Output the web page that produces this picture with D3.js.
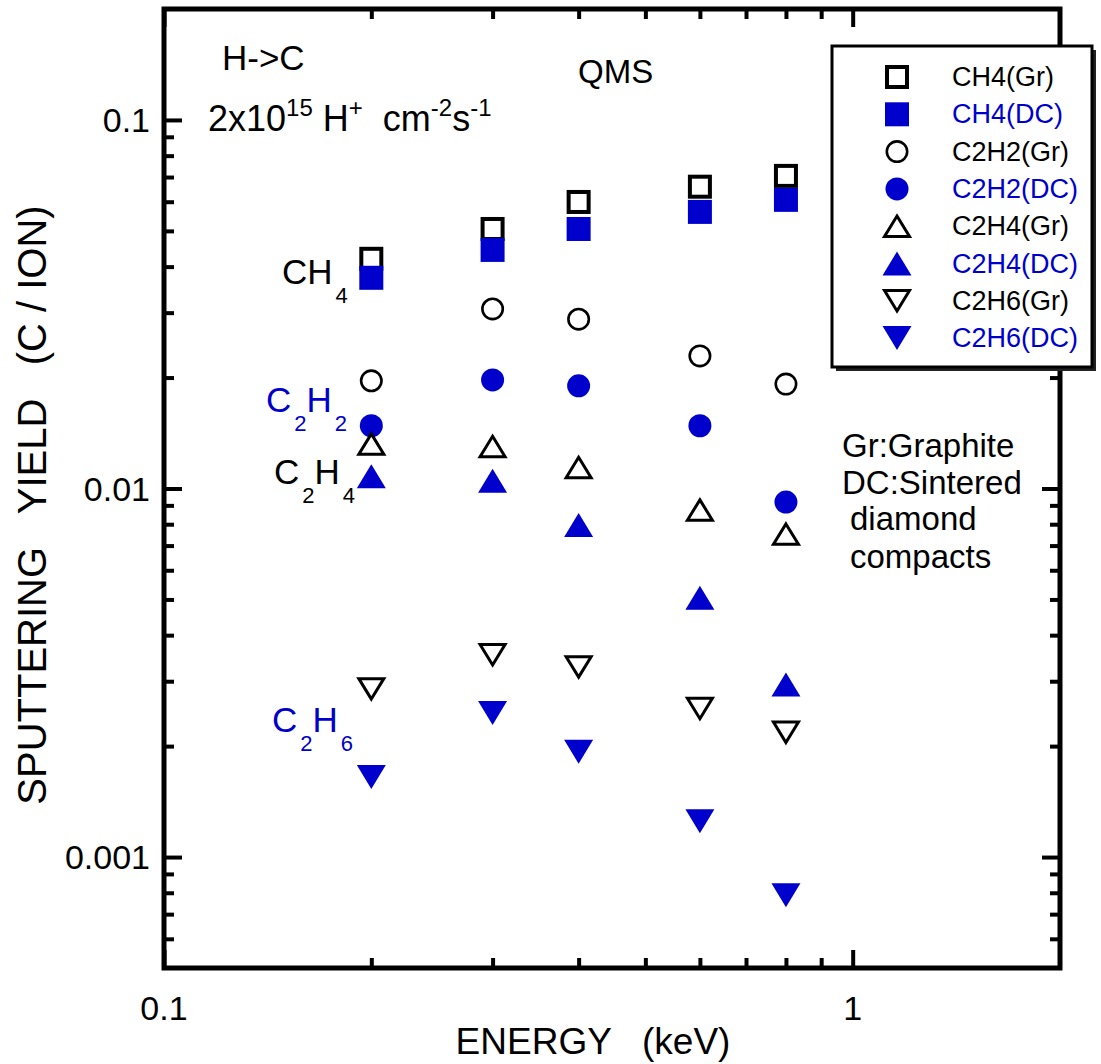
<!DOCTYPE html>
<html>
<head>
<meta charset="utf-8">
<script src="https://cdn.jsdelivr.net/npm/d3@7"></script>
<style>
  html, body { margin: 0; padding: 0; background: #fff; }
  svg { display: block; font-family: "Liberation Sans", Arial, Helvetica, sans-serif; }
</style>
</head>
<body>
<svg id="chart" width="1101" height="1064"></svg>
<script>
// Incident energies (keV)
const energies = [0.2, 0.3, 0.4, 0.6, 0.8];

// Sputtering yields (C / ion) for each product and target
const ch4Gr  = [0.0420, 0.0506, 0.0599, 0.0659, 0.0705];
const ch4DC  = [0.0373, 0.0444, 0.0506, 0.0563, 0.0607];
const c2h2Gr = [0.0196, 0.0307, 0.0288, 0.0229, 0.0192];
const c2h2DC = [0.0148, 0.0197, 0.0190, 0.0148, 0.00919];
const c2h4Gr = [0.0132, 0.0130, 0.0114, 0.00874, 0.00752];
const c2h4DC = [0.0108, 0.0105, 0.00796, 0.00505, 0.00294];
const c2h6Gr = [0.00286, 0.00354, 0.00328, 0.00253, 0.00218];
const c2h6DC = [0.00165, 0.00246, 0.00193, 0.00125, 0.000788];

const seriesNames  = ["CH4(Gr)", "CH4(DC)", "C2H2(Gr)", "C2H2(DC)", "C2H4(Gr)", "C2H4(DC)", "C2H6(Gr)", "C2H6(DC)"];
const seriesValues = [ch4Gr, ch4DC, c2h2Gr, c2h2DC, c2h4Gr, c2h4DC, c2h6Gr, c2h6DC];
const seriesShapes = ["square", "square", "circle", "circle", "up", "up", "down", "down"];
const seriesFilled = [false, true, false, true, false, true, false, true];

// Axis ticks
const xMajorTicks = [0.1, 1];
const xMajorLabels = ["0.1", "1"];
const xMinorTicks = [0.2, 0.3, 0.4, 0.5, 0.6, 0.7, 0.8, 0.9];
const yMajorTicks = [0.001, 0.01, 0.1];
const yMajorLabels = ["0.001", "0.01", "0.1"];
const yMinorTicks = [0.0006, 0.0007, 0.0008, 0.0009,
                     0.002, 0.003, 0.004, 0.005, 0.006, 0.007, 0.008, 0.009,
                     0.02, 0.03, 0.04, 0.05, 0.06, 0.07, 0.08, 0.09];

const BLUE = "#0000cc";
const svg = d3.select("#chart");

const x = d3.scaleLog().domain([0.1, 2]).range([164, 1060]);
const y = d3.scaleLog().domain([0.0005, 0.2]).range([968, 9]);

const [x0, x1] = x.range();
const [y0, y1] = [y.range()[1], y.range()[0]];

// Tick marks, all pointing into the plot
function ticks(axisGen, transform, vals, len) {
  const g = svg.append("g").attr("transform", transform)
    .call(axisGen.tickValues(vals).tickSize(len).tickSizeOuter(0).tickFormat(""));
  g.select(".domain").remove();
  g.selectAll(".tick line").attr("stroke", "#000").attr("stroke-width", 4);
  return g;
}
const MAJ = 18, MIN = 10;
ticks(d3.axisBottom(x), `translate(0,${y1})`, xMajorTicks, -MAJ);
ticks(d3.axisBottom(x), `translate(0,${y1})`, xMinorTicks, -MIN);
ticks(d3.axisTop(x), `translate(0,${y0})`, xMajorTicks, -MAJ);
ticks(d3.axisTop(x), `translate(0,${y0})`, xMinorTicks, -MIN);
ticks(d3.axisLeft(y), `translate(${x0},0)`, yMajorTicks, -MAJ);
ticks(d3.axisLeft(y), `translate(${x0},0)`, yMinorTicks, -MIN);
ticks(d3.axisRight(y), `translate(${x1},0)`, yMajorTicks, -MAJ);
ticks(d3.axisRight(y), `translate(${x1},0)`, yMinorTicks, -MIN);

// Frame
svg.append("rect")
  .attr("x", x0).attr("y", y0).attr("width", x1 - x0).attr("height", y1 - y0)
  .attr("fill", "none").attr("stroke", "#000").attr("stroke-width", 5);

// Tick labels
svg.append("g").selectAll("text").data(xMajorTicks).join("text")
  .attr("x", d => x(d)).attr("y", 1020)
  .attr("text-anchor", "middle").attr("font-size", 34)
  .text((d, i) => xMajorLabels[i]);
svg.append("g").selectAll("text").data(yMajorTicks).join("text")
  .attr("x", 150).attr("y", d => y(d) + 12)
  .attr("text-anchor", "end").attr("font-size", 34)
  .text((d, i) => yMajorLabels[i]);

// Axis titles
svg.append("text").attr("x", 593).attr("y", 1054)
  .attr("text-anchor", "middle").attr("font-size", 37)
  .style("white-space", "pre")
  .text("ENERGY   (keV)");
svg.append("text")
  .attr("transform", "translate(46,505) rotate(-90)")
  .attr("text-anchor", "middle").attr("font-size", 40)
  .style("white-space", "pre")
  .text("SPUTTERING   YIELD   (C / ION)");

// Marker drawing
function marker(g, shape, filled) {
  const col = filled ? BLUE : "#000";
  if (shape === "square") {
    const s = filled ? 24 : 20;
    g.append("rect").attr("x", -s / 2).attr("y", -s / 2).attr("width", s).attr("height", s)
      .attr("fill", filled ? BLUE : "#fff").attr("stroke", filled ? "none" : col).attr("stroke-width", 4);
  } else if (shape === "circle") {
    g.append("circle").attr("r", filled ? 11.5 : 10.2)
      .attr("fill", filled ? BLUE : "#fff").attr("stroke", filled ? "none" : col).attr("stroke-width", 2.6);
  } else {
    const dir = shape === "up" ? 1 : -1;
    const w = filled ? 14.5 : 12.5, h = filled ? 12 : 10.2;
    const pts = [[0, -h * dir], [w, h * dir], [-w, h * dir]];
    g.append("path").attr("d", d3.line()(pts) + "Z")
      .attr("fill", filled ? BLUE : "#fff").attr("stroke", filled ? "none" : col)
      .attr("stroke-width", 3).attr("stroke-linejoin", "miter");
  }
}

// Data points
seriesValues.forEach((vals, si) => {
  const g = svg.append("g").attr("class", "series");
  vals.forEach((v, i) => {
    const m = g.append("g").attr("transform", `translate(${x(energies[i])},${y(v)})`);
    marker(m, seriesShapes[si], seriesFilled[si]);
  });
});

// Legend
const lg = svg.append("g");
lg.append("rect").attr("x", 836).attr("y", 50).attr("width", 260).attr("height", 321).attr("fill", "#222");
lg.append("rect").attr("x", 832).attr("y", 46).attr("width", 260).attr("height", 321)
  .attr("fill", "#fff").attr("stroke", "#000").attr("stroke-width", 3);
seriesNames.forEach((name, i) => {
  const cy = 77 + i * 37.3;
  const m = lg.append("g").attr("transform", `translate(897,${cy})`);
  marker(m, seriesShapes[i], seriesFilled[i]);
  lg.append("text").attr("x", 952).attr("y", cy + 9).attr("font-size", 27)
    .attr("fill", seriesFilled[i] ? BLUE : "#000").text(name);
});

// Chemical formula labels with subscripts
function formula(xp, yp, parts, color) {
  const t = svg.append("text").attr("x", xp).attr("y", yp).attr("font-size", 35).attr("fill", color);
  let lowered = false;
  parts.forEach(p => {
    t.append("tspan").attr("dy", lowered ? -19 : 0).text(p[0]);
    t.append("tspan").attr("font-size", 22).attr("dy", 19).attr("dx", 3).text(p[1]);
    lowered = true;
  });
}
formula(282, 284, [["CH", "4"]], "#000");
formula(266, 412, [["C", "2"], ["H", "2"]], BLUE);
formula(274, 484, [["C", "2"], ["H", "4"]], "#000");
formula(272, 732, [["C", "2"], ["H", "6"]], BLUE);

svg.append("text").attr("x", 222).attr("y", 70).attr("font-size", 35).text("H->C");
svg.append("text").attr("x", 578).attr("y", 83).attr("font-size", 33).text("QMS");

const flux = svg.append("text").attr("x", 208).attr("y", 131).attr("font-size", 36).style("white-space", "pre");
flux.append("tspan").text("2x10");
flux.append("tspan").attr("font-size", 24).attr("dy", -15).text("15");
flux.append("tspan").attr("dy", 15).text(" H");
flux.append("tspan").attr("font-size", 24).attr("dy", -15).text("+");
flux.append("tspan").attr("dy", 15).text("  cm");
flux.append("tspan").attr("font-size", 24).attr("dy", -15).text("-2");
flux.append("tspan").attr("dy", 15).text("s");
flux.append("tspan").attr("font-size", 24).attr("dy", -15).text("-1");

const note = svg.append("g").attr("font-size", 33);
note.append("text").attr("x", 842).attr("y", 457).text("Gr:Graphite");
note.append("text").attr("x", 842).attr("y", 494).text("DC:Sintered");
note.append("text").attr("x", 850).attr("y", 530).text("diamond");
note.append("text").attr("x", 850).attr("y", 568).text("compacts");
</script>
</body>
</html>
